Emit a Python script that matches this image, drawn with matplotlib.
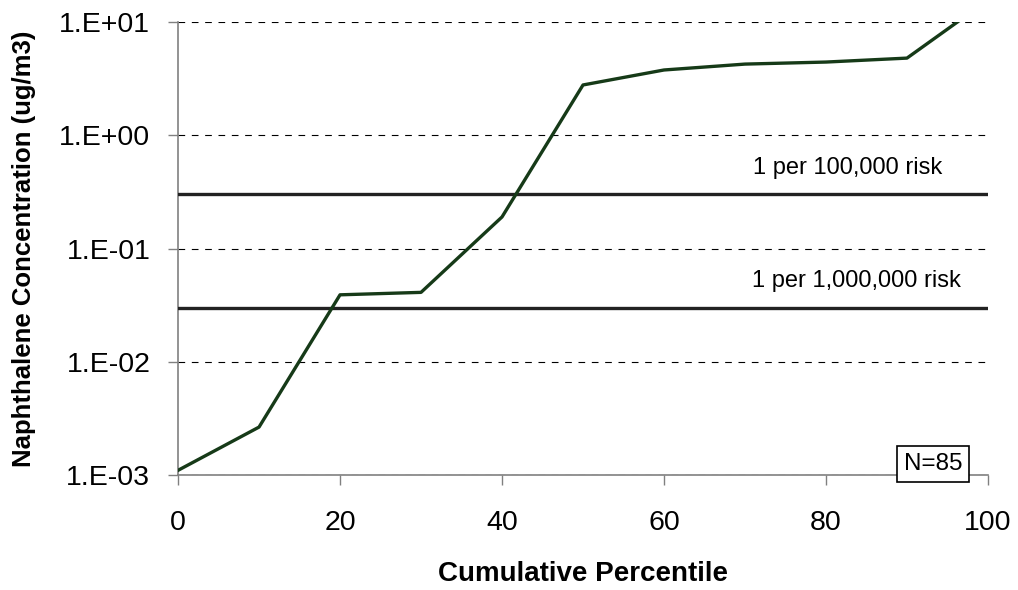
import math
import matplotlib.pyplot as plt
from matplotlib.ticker import FuncFormatter

plt.rcParams['font.family'] = ['Liberation Sans', 'DejaVu Sans']

# cumulative percentile vs naphthalene concentration (ug/m3)
percentile = [0, 10, 20, 30, 40, 50, 60, 70, 80, 90, 100]
conc = [0.0011, 0.00265, 0.039, 0.041, 0.19, 2.78, 3.77, 4.25, 4.43, 4.8, 15.6]

risk_levels = [0.3, 0.03]
risk_labels = ['1 per 100,000 risk', '1 per 1,000,000 risk']
risk_label_x = [82.7, 83.8]

fig = plt.figure(figsize=(10.18, 5.9), dpi=100)
ax = fig.add_axes([0.1749, 0.1949, 0.7956, 0.7678])

ax.set_yscale('log')
ax.set_xlim(0, 100)
ax.set_ylim(1e-3, 1e1)

ax.grid(axis='y', which='major', color='black', linestyle=(0, (6, 6)), linewidth=0.8)
ax.set_axisbelow(True)

for lvl, lab, lx in zip(risk_levels, risk_labels, risk_label_x):
    ax.axhline(lvl, color='#222222', linewidth=2.4, zorder=3)
    ax.annotate(lab, xy=(lx, lvl), xytext=(0, 11), textcoords='offset points',
                ha='center', va='bottom', fontsize=17)

ax.plot(percentile, conc, color='#163a18', linewidth=2.4, zorder=4)

ax.set_xticks([0, 20, 40, 60, 80, 100])
ax.yaxis.set_major_formatter(FuncFormatter(lambda v, p: '1.E%+03d' % round(math.log10(v))))
ax.yaxis.set_minor_locator(plt.NullLocator())
ax.tick_params(axis='both', labelsize=20.5, direction='out', length=7, color='#808080', width=1)
ax.tick_params(axis='x', pad=18)
ax.tick_params(axis='y', pad=13)

for s in ['top', 'right']:
    ax.spines[s].set_visible(False)
for s in ['left', 'bottom']:
    ax.spines[s].set_color('#808080')
    ax.spines[s].set_linewidth(1.2)

ax.set_xlabel('Cumulative Percentile', fontsize=20, fontweight='bold', labelpad=18)
ax.set_ylabel('Naphthalene Concentration (ug/m3)', fontsize=18.5, fontweight='bold', labelpad=17)

ax.text(93.2, 0.0, 'N=85', transform=ax.get_xaxis_transform(), ha='center', va='bottom',
        fontsize=17.5, bbox=dict(boxstyle='square,pad=0.28', facecolor='white', edgecolor='black', linewidth=1.2),
        zorder=5)

fig.savefig('out.png', dpi=100)
